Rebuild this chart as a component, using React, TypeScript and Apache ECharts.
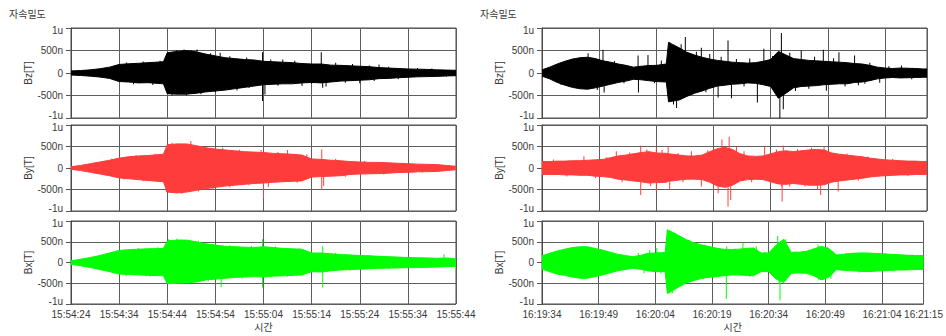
import React, { useEffect, useRef } from 'react';
import * as echarts from 'echarts';

// ---------- time samples (seconds from panel start) ----------
const tLeft = [0, 2, 4, 6, 8, 10, 12, 14, 16, 19.2, 20, 22, 24, 26, 28, 30, 32, 34, 36, 38, 40,
  42, 44, 46, 48, 50, 52, 54, 56, 58, 60, 62, 64, 66, 68, 70, 72, 74, 76, 78, 80];
const tRight = [0, 2, 4, 6, 8, 10, 12, 14, 16, 18, 20, 22, 24, 26, 28, 30, 32.6, 33.2, 36, 38, 40,
  42, 44, 46, 48, 50, 52, 54, 56, 58, 60, 62, 64, 66, 68, 70, 72, 74, 76, 78, 80,
  82, 84, 86, 88, 90, 92, 94, 96, 98, 100, 101];

const leftStartLabel = '15:54:24';
const rightStartLabel = '16:19:34';

// ---------- y tick labels ----------
const yTickValues = [-1000, -500, 0, 500, 1000];
const yTickLabels = ['-1u', '-500n', '0', '500n', '1u'];

// ---------- left panel envelopes (nT) ----------
const bzLeftMax = [45, 55, 70, 95, 130, 190, 205, 215, 230, 250, 450, 480, 500, 470, 420, 380, 340, 320, 300, 290, 260,
  250, 240, 230, 210, 200, 200, 175, 170, 160, 150, 140, 120, 110, 100, 90, 85, 80, 70, 65, 60];
const bzLeftMin = [-45, -55, -70, -90, -120, -190, -200, -220, -215, -240, -460, -470, -470, -450, -420, -400, -380, -350, -320, -290, -260,
  -250, -240, -240, -220, -210, -220, -200, -180, -170, -160, -150, -125, -120, -105, -95, -85, -80, -75, -65, -60];
const bzLeftSpikes = [[7, 110], [9, -140], [11.5, 235], [13, -250], [15, 255], [17, -265], [18.5, 275], [21, -500],
  [22, 510], [23.5, 525], [24, -495], [25, 505], [26.2, 520], [27, -470], [29, 440], [30, -430], [31, 450],
  [33, 370], [34.5, -390], [36.5, 345], [37, -335], [39.8, 460], [39.8, -620], [40.3, -480], [41.5, 300],
  [43, -285], [44, 300], [46.5, 270], [48, -290], [50, -245], [52, 460], [52.3, -330], [53, -300], [55, 230],
  [57, -215], [58.5, 200], [60, -230], [62, 165], [63, -180], [64, 190], [66, 140], [68, -140], [72, 110],
  [75, 100], [78, -85]];

const byLeftMax = [30, 60, 100, 140, 180, 230, 260, 280, 290, 320, 540, 560, 560, 520, 470, 440, 420, 400, 380, 370, 360,
  340, 330, 320, 300, 210, 200, 180, 170, 150, 140, 130, 130, 120, 110, 100, 90, 85, 80, 60, 40];
const byLeftMin = [-30, -60, -100, -140, -180, -230, -250, -270, -290, -320, -560, -580, -560, -520, -480, -450, -420, -400, -380, -360, -350,
  -330, -320, -310, -300, -210, -200, -190, -180, -150, -140, -135, -130, -120, -105, -100, -90, -85, -80, -60, -40];
const byLeftSpikes = [[8.5, 215], [11, -265], [13.5, 300], [15, -310], [17.5, 330], [19.8, -560], [21, 590],
  [23, -600], [24.9, 630], [26.5, -545], [28, 500], [29.5, -490], [31.5, 470], [33, -445], [35, 425],
  [37, -400], [39.5, 420], [40, -710], [41, -440], [43, 370], [45, 420], [47, -345], [49, 320],
  [52.1, 430], [52.1, -510], [52.5, -420], [55, 215], [57, -205], [61, 160], [65, -150], [69, 125], [73, -105]];

const bxLeftMax = [40, 80, 120, 170, 230, 290, 310, 320, 330, 340, 520, 540, 540, 500, 450, 420, 390, 380, 370, 360, 380,
  360, 340, 330, 320, 230, 230, 210, 190, 180, 170, 160, 150, 140, 130, 120, 115, 110, 100, 110, 90];
const bxLeftMin = [-40, -80, -120, -170, -220, -280, -290, -300, -310, -320, -510, -500, -490, -470, -420, -400, -380, -360, -350, -340, -350,
  -330, -320, -310, -300, -220, -230, -200, -180, -170, -160, -150, -140, -135, -130, -125, -120, -115, -110, -100, -90];
const bxLeftSpikes = [[9, 275], [11.5, -320], [14, 350], [16.5, -340], [18, 365], [20.3, 560], [20.5, -520],
  [22, 570], [24.5, -515], [26.5, 525], [28.5, -450], [31.2, -590], [33, 415], [35.5, -385], [37.5, 395],
  [39.8, 560], [39.8, -600], [42.5, 385], [45, -335], [47.5, 345], [52.3, 390], [52.3, -600], [55, 235],
  [58, -195], [62, 180], [66, -155], [70, 140], [74, -130], [77.5, 200]];

// ---------- right panel envelopes (nT) ----------
const bzRightMax = [70, 130, 200, 260, 310, 340, 350, 320, 270, 240, 200, 170, 130, 150, 165, 170, 200, 680, 560, 460, 400,
  350, 310, 280, 260, 240, 230, 220, 230, 260, 300, 480, 400, 320, 300, 280, 270, 260, 250, 240, 230,
  210, 200, 170, 130, 110, 100, 110, 105, 100, 90, 90];
const bzRightMin = [-70, -130, -210, -270, -320, -350, -360, -330, -290, -250, -210, -180, -140, -150, -170, -190, -200, -640, -600, -520, -450,
  -400, -340, -290, -270, -250, -240, -220, -230, -260, -300, -560, -450, -330, -300, -290, -280, -260, -250, -240, -240,
  -210, -200, -170, -130, -110, -100, -110, -105, -100, -95, -95];
const bzRightSpikes = [[5, -265], [7.5, 300], [12.1, 440], [14.5, -375], [16, 515], [16.3, -433], [19, 265],
  [21.5, -230], [25.2, 390], [25.3, -433], [27.8, 400], [29.5, -225], [31.3, 276], [33.5, 690], [34.5, -700],
  [35.3, -780], [36.5, 640], [37.6, 800], [38.5, -507], [40.5, 470], [41.8, 560], [43, -430], [44, 425],
  [46.2, -545], [47, 360], [48.8, 724], [49.7, -560], [51, 310], [53, -300], [54.5, 320], [56.5, -656],
  [58.2, 537], [60.5, 380], [61.5, -420], [62.4, -1000], [62.8, 888], [63.3, -805], [65, 450], [66.5, -400],
  [68, 500], [70, -350], [71.5, 360], [73.8, 515], [74.6, -395], [76.5, 330], [77.9, 463], [79.5, -300],
  [82, 388], [83, -270], [84.7, -240], [86, 230], [88.6, -216], [91, 150], [94.3, 165], [97, -140]];

const byRightMax = [150, 150, 160, 160, 170, 170, 180, 190, 200, 240, 280, 300, 330, 360, 380, 350, 340, 330, 300, 280, 280,
  300, 380, 450, 480, 430, 330, 280, 270, 280, 330, 380, 400, 380, 400, 420, 430, 420, 350, 320, 300,
  280, 260, 230, 210, 190, 180, 170, 160, 160, 150, 150];
const byRightMin = [-150, -150, -150, -160, -160, -170, -170, -190, -200, -220, -260, -280, -300, -320, -350, -340, -330, -310, -280, -260, -260,
  -270, -330, -420, -450, -400, -300, -270, -260, -270, -320, -370, -380, -360, -380, -400, -400, -390, -330, -300, -280,
  -260, -240, -210, -190, -180, -170, -160, -160, -150, -150, -150];
const byRightSpikes = [[3, 200], [6.5, -195], [11, 273], [14, -230], [17, 250], [19.5, 390], [21, -330],
  [23, 360], [25.9, 523], [25.9, -625], [27.5, 430], [28.5, -420], [30, 470], [30, -547], [31.5, 420],
  [33.1, 507], [33.5, -508], [35.7, 350], [37, -330], [39.2, 390], [41.8, -430], [43.5, 410], [45, -480],
  [46.2, -586], [47.2, 664], [48.8, -898], [49.1, 726], [49.5, -742], [51, 500], [53, 390], [55, -330],
  [58.4, 508], [60, -380], [61.5, 430], [62.8, -430], [63, -781], [63.3, 523], [65, -430], [67, 440],
  [69, -430], [70.7, 470], [72.3, -508], [73.1, -625], [74, 480], [75, 350], [77.7, -547], [80, 340],
  [83, -290], [85.5, 270], [88.2, -195], [92, 210], [96, -180]];

const bxRightMax = [160, 220, 280, 320, 360, 380, 380, 340, 300, 250, 200, 170, 140, 170, 220, 230, 240, 790, 660, 560, 480,
  430, 390, 350, 320, 310, 320, 340, 350, 230, 230, 420, 560, 240, 250, 270, 330, 390, 330, 180, 200,
  220, 230, 230, 220, 210, 200, 190, 180, 170, 170, 170];
const bxRightMin = [-160, -220, -280, -310, -350, -380, -380, -340, -300, -250, -200, -170, -140, -160, -200, -220, -220, -750, -600, -500, -440,
  -390, -360, -340, -320, -300, -300, -310, -320, -220, -220, -400, -480, -260, -250, -260, -320, -420, -350, -170, -190,
  -200, -210, -220, -210, -200, -190, -180, -180, -170, -170, -170];
const bxRightSpikes = [[25.5, 230], [27, -260], [28.5, 300], [30.4, 350], [31.5, -270], [34, 760], [34.5, -740],
  [35.5, 700], [37, -560], [39, 540], [41, -420], [43, 430], [45.5, -370], [48.8, -877], [48.9, 394],
  [51, 340], [53.2, 476], [55, -345], [56.7, 390], [59, 260], [61, -280], [62.4, 640], [62.8, -510],
  [63, -918], [64.5, 560], [67, 270], [69, -280], [72.4, -345], [73.1, 435], [73.3, -430], [75.5, 380],
  [76.5, -390], [80.5, 230], [84, -240], [89, 230], [93, -210], [98, 195]];

// ---------- styling ----------
const FONT = "'Liberation Sans', 'Noto Sans CJK KR', Arial, sans-serif";
const TEXT = '#3a3a3a';
const GRIDLINE = '#5e5e5e';
const BLACK = '#000000';
const RED = '#ff3c3c';
const GREEN = '#00ff00';

function parseHMS(s: string) {
  const [h, m, sec] = s.split(':').map(Number);
  return h * 3600 + m * 60 + sec;
}
function pad(n: number) { return n < 10 ? '0' + n : '' + n; }
function timeFormatter(start: string) {
  const base = parseHMS(start);
  return (v: number) => {
    const s = base + Math.round(v);
    return `${Math.floor(s / 3600)}:${pad(Math.floor((s % 3600) / 60))}:${pad(s % 60)}`;
  };
}

function buildOption() {
  const panels = [
    {
      left: 71, start: leftStartLabel, max: 80, interval: 10, t: tLeft,
      plots: [
        { name: 'Bz[T]', color: BLACK, hi: bzLeftMax, lo: bzLeftMin, spikes: bzLeftSpikes },
        { name: 'By[T]', color: RED, hi: byLeftMax, lo: byLeftMin, spikes: byLeftSpikes },
        { name: 'Bx[T]', color: GREEN, hi: bxLeftMax, lo: bxLeftMin, spikes: bxLeftSpikes },
      ],
    },
    {
      left: 542, start: rightStartLabel, max: 101, interval: 15, t: tRight,
      plots: [
        { name: 'Bz[T]', color: BLACK, hi: bzRightMax, lo: bzRightMin, spikes: bzRightSpikes },
        { name: 'By[T]', color: RED, hi: byRightMax, lo: byRightMin, spikes: byRightSpikes },
        { name: 'Bx[T]', color: GREEN, hi: bxRightMax, lo: bxRightMin, spikes: bxRightSpikes },
      ],
    },
  ];
  const rows = [
    { top: 28, height: 90 },
    { top: 125, height: 86 },
    { top: 221, height: 83 },
  ];

  const labelBase = { fontSize: 10, color: TEXT, fontFamily: FONT };

  const grid: any[] = [];
  const xAxis: any[] = [];
  const yAxis: any[] = [];
  const series: any[] = [];

  panels.forEach((p, pi) => {
    const fmt = timeFormatter(p.start);
    p.plots.forEach((pl, ri) => {
      const g = pi * 3 + ri;
      const row = rows[ri];
      const bottomRow = ri === 2;
      grid.push({
        left: p.left, top: row.top, width: 385, height: row.height,
        show: true, borderColor: '#4a4a4a', borderWidth: 1, backgroundColor: '#ffffff',
      });
      xAxis.push({
        type: 'value', gridIndex: g, min: 0, max: p.max, interval: p.interval,
        splitLine: { show: true, lineStyle: { color: GRIDLINE, width: 1 } },
        axisLine: { show: false },
        axisTick: { show: bottomRow, length: 3, lineStyle: { color: '#555' } },
        axisLabel: { show: bottomRow, formatter: fmt, margin: 5, ...labelBase },
        name: bottomRow ? '시간' : '',
        nameLocation: 'middle', nameGap: 18,
        nameTextStyle: { ...labelBase },
      });
      yAxis.push({
        type: 'value', gridIndex: g, min: -1000, max: 1000, interval: 500,
        splitLine: { show: true, lineStyle: { color: GRIDLINE, width: 1 } },
        axisLine: { show: true, lineStyle: { color: '#4a4a4a' } },
        axisTick: { show: true, length: 5, lineStyle: { color: '#555' } },
        axisLabel: {
          margin: 8, ...labelBase,
          formatter: (v: number) => {
            const i = yTickValues.indexOf(v);
            if (i < 0) return '';
            if (v === -1000) return '{lo|' + yTickLabels[i] + '}';
            if (v === 1000) return '{hi|' + yTickLabels[i] + '}';
            return yTickLabels[i];
          },
          rich: {
            lo: { ...labelBase, padding: [0, 0, 5, 0] },
            hi: { ...labelBase, padding: [5, 0, 0, 0] },
          },
        },
        name: pl.name, nameLocation: 'middle', nameGap: 36, nameRotate: 90,
        nameTextStyle: { ...labelBase },
      });
      // upper envelope filled down past zero, lower envelope filled up past zero:
      // the two fills overlap slightly so no seam shows at the zero line.
      const hiData = p.t.map((t, i) => [t, pl.hi[i]]);
      const loData = p.t.map((t, i) => [t, pl.lo[i]]);
      series.push({
        type: 'line', xAxisIndex: g, yAxisIndex: g, data: hiData, symbol: 'none', silent: true,
        lineStyle: { color: pl.color, width: 1 },
        itemStyle: { color: pl.color },
        areaStyle: { color: pl.color, opacity: 1, origin: -20 },
      });
      series.push({
        type: 'line', xAxisIndex: g, yAxisIndex: g, data: loData, symbol: 'none', silent: true,
        lineStyle: { color: pl.color, width: 1 },
        itemStyle: { color: pl.color },
        areaStyle: { color: pl.color, opacity: 1, origin: 20 },
      });
      series.push({
        type: 'bar', xAxisIndex: g, yAxisIndex: g, data: pl.spikes, barWidth: 1, silent: true,
        itemStyle: { color: pl.color },
      });
    });
  });

  return {
    animation: false,
    backgroundColor: '#ffffff',
    title: [
      { text: '자속밀도', left: 9, top: 9, padding: 0, textStyle: { fontSize: 10, fontWeight: 'normal', color: TEXT, fontFamily: FONT } },
      { text: '자속밀도', left: 480, top: 9, padding: 0, textStyle: { fontSize: 10, fontWeight: 'normal', color: TEXT, fontFamily: FONT } },
    ],
    grid, xAxis, yAxis, series,
  };
}

export default function App() {
  const ref = useRef<HTMLDivElement>(null);
  useEffect(() => {
    if (!ref.current) return;
    const chart = echarts.init(ref.current, null, { renderer: 'svg' });
    chart.setOption(buildOption() as any);
    return () => chart.dispose();
  }, []);
  return (
    <div
      ref={ref}
      style={{ position: 'absolute', left: 0, top: 0, width: 946, height: 336, background: '#fff' }}
    />
  );
}
